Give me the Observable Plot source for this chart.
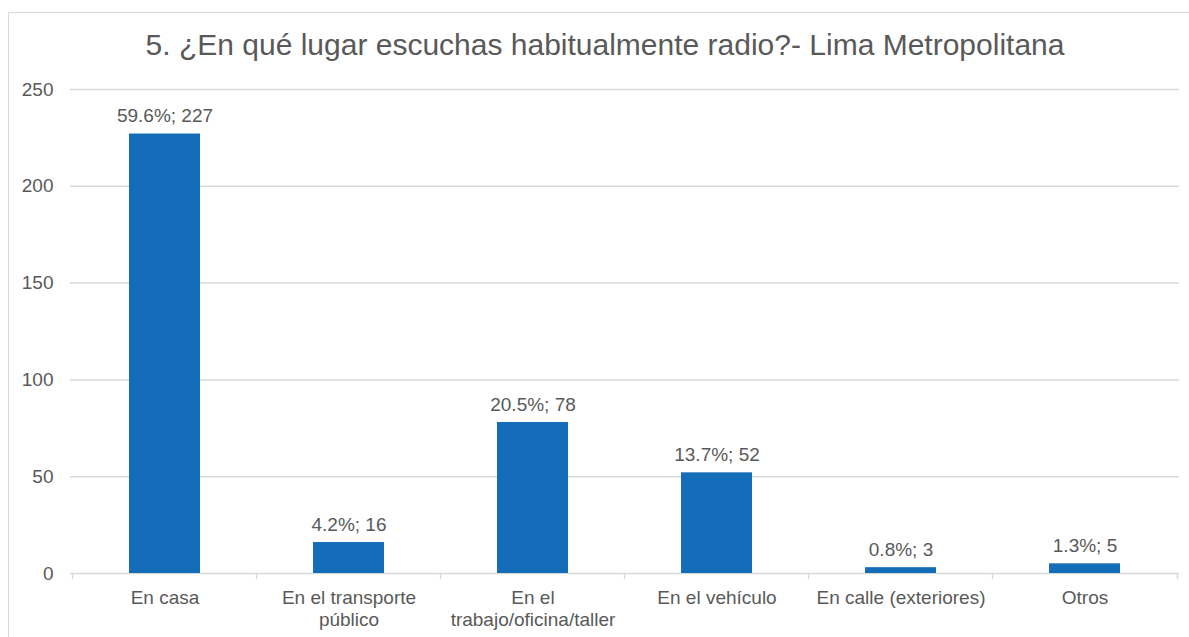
<!DOCTYPE html>
<html>
<head>
<meta charset="utf-8">
<script src="https://cdn.jsdelivr.net/npm/d3@7"></script>
<script src="https://cdn.jsdelivr.net/npm/@observablehq/plot@0.6"></script>
<style>
  html, body { margin: 0; padding: 0; background: #fff; overflow: hidden; }
  body { width: 1189px; height: 637px; position: relative; font-family: "Liberation Sans", Arial, sans-serif; }
  #frame { position: absolute; left: 8px; top: 12px; width: 1300px; height: 700px;
           border-top: 1.5px solid #d9d9d9; border-left: 1.5px solid #d9d9d9; }
  #title { position: absolute; left: 0; top: 28px; width: 1210px; text-align: center;
           font-size: 30px; line-height: 34px; color: #595959; white-space: nowrap; }
  #chart { position: absolute; left: 0; top: 70px; }
</style>
</head>
<body>
<div id="frame"></div>
<div id="title">5. ¿En qué lugar escuchas habitualmente radio?- Lima Metropolitana</div>
<div id="chart"></div>
<script>
const categories = ["En casa", "En el transporte\npúblico", "En el\ntrabajo/oficina/taller", "En el vehículo", "En calle (exteriores)", "Otros"];
const counts = [227, 16, 78, 52, 3, 5];
const percents = [59.6, 4.2, 20.5, 13.7, 0.8, 1.3];
const yTicks = [0, 50, 100, 150, 200, 250];

const data = categories.map((c, i) => ({cat: c, value: counts[i], pct: percents[i], label: `${percents[i]}%; ${counts[i]}`}));

const W = 1189, H = 567, mL = 70, mR = 10;
const step = (W - mL - mR) / categories.length;

const plot = Plot.plot({
  width: W,
  height: H,
  marginLeft: mL,
  marginRight: mR,
  marginTop: 19,
  marginBottom: 64,
  style: {fontFamily: "'Liberation Sans', Arial, sans-serif", fontSize: "19px", color: "#595959", background: "transparent"},
  x: {domain: categories, paddingInner: 0.616, paddingOuter: 0.308, label: null},
  y: {domain: [0, 250], label: null},
  marks: [
    Plot.ruleY(yTicks, {stroke: "#d9d9d9", strokeWidth: 1.5}),
    Plot.ruleX(categories, {x: d => d, dx: -step / 2, y1: 0, y2: -3.2, stroke: "#d9d9d9", strokeWidth: 1.5}),
    Plot.ruleX([categories[categories.length - 1]], {x: d => d, dx: step / 2, y1: 0, y2: -3.2, stroke: "#d9d9d9", strokeWidth: 1.5}),
    Plot.barY(data, {x: "cat", y: "value", fill: "#146db8"}),
    Plot.text(data, {x: "cat", y: "value", text: "label", dy: -18, fill: "#595959", fontSize: 19}),
    Plot.axisY({ticks: yTicks, tickSize: 0, tickPadding: 17, fontSize: 19, fill: "#595959"}),
    Plot.axisX({tickSize: 0, tickPadding: 15, fontSize: 19, fill: "#595959", lineHeight: 1.15, lineAnchor: "top"})
  ]
});
document.getElementById("chart").appendChild(plot);
</script>
</body>
</html>
